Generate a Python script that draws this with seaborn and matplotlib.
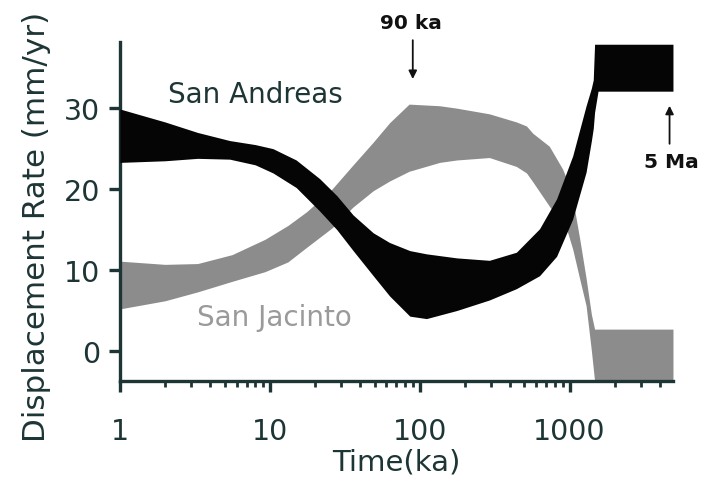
import numpy as np
import matplotlib
matplotlib.use("Agg")
import matplotlib.pyplot as plt
import seaborn as sns

# Slip-rate envelopes (mm/yr) versus averaging time window (ka)
sa_time = [1, 2, 3.3, 5.4, 8, 10.5, 15, 21.5, 28, 36, 49, 63, 86, 111,
           177, 292, 442, 631, 820, 1050, 1290, 1400, 1440, 1470, 1550, 4900]
sa_upper = [29.9, 28.3, 27.0, 26.0, 25.5, 25.0, 23.6, 21.3, 19.2, 16.8, 14.6,
            13.4, 12.4, 12.0, 11.5, 11.2, 12.2, 15.1, 18.8, 24.1, 30.3, 32.5,
            33.5, 37.9, 37.9, 37.9]
sa_lower = [23.3, 23.5, 23.8, 23.7, 23.0, 22.0, 20.2, 17.3, 15.0, 12.4, 9.3,
            6.8, 4.3, 4.0, 5.0, 6.3, 7.7, 9.3, 11.7, 16.3, 22.1, 26.0, 27.5,
            29.5, 32.1, 32.1]

sj_time = [1, 2, 3.3, 5.6, 9.3, 13.2, 17.6, 26, 36, 49, 63, 85, 136, 177, 292,
           442, 516, 569, 733, 898, 955, 1050, 1166, 1290, 1400, 1470, 4900]
sj_upper = [11.1, 10.7, 10.8, 11.9, 13.8, 15.5, 17.2, 20.0, 23.0, 25.8, 28.2,
            30.5, 30.3, 30.0, 29.3, 28.3, 27.8, 26.9, 25.3, 22.5, 21.3, 18.8,
            14.0, 9.0, 4.5, 2.7, 2.7]
sj_lower = [5.2, 6.2, 7.3, 8.6, 9.8, 11.0, 12.8, 15.2, 17.8, 19.8, 21.0, 22.2,
            23.3, 23.6, 23.9, 22.8, 22.0, 20.9, 17.9, 15.6, 15.1, 12.6, 9.0,
            5.6, 0.0, -3.7, -3.7]

x_ticks = [1, 10, 100, 1000]
x_tick_labels = ["1", "10", "100", "1000"]
y_ticks = [0, 10, 20, 30]

ink = "#1e3535"
black_fill = "#050505"
gray_fill = "#8c8c8c"

sns.set_style("ticks")
plt.rcParams["font.family"] = ["DejaVu Sans"]

fig, ax = plt.subplots(figsize=(7.01, 4.81), dpi=100)
fig.subplots_adjust(left=0.171, right=0.960, top=0.911, bottom=0.206)

ax.fill_between(sj_time, sj_lower, sj_upper, color=gray_fill, lw=0, zorder=2)
ax.fill_between(sa_time, sa_lower, sa_upper, color=black_fill, lw=0, zorder=3)

ax.set_xscale("log")
ax.set_xlim(1, 4900)
ax.set_ylim(-3.7, 38.2)
ax.set_xticks(x_ticks)
ax.set_xticklabels(x_tick_labels)
ax.set_yticks(y_ticks)

sns.despine(ax=ax)
for side in ("left", "bottom"):
    ax.spines[side].set_linewidth(2.4)
    ax.spines[side].set_color(ink)

ax.tick_params(axis="both", which="major", direction="out", length=8,
               width=2.4, color=ink, labelcolor=ink, labelsize=20.5)
ax.tick_params(axis="y", which="major", pad=6)
ax.tick_params(axis="x", which="major", pad=18)
ax.tick_params(axis="x", which="minor", direction="out", length=4,
               width=2.0, color=ink)

ax.set_xlabel("Time(ka)", fontsize=21, color=ink, labelpad=2)
ax.set_ylabel("Displacement Rate (mm/yr)", fontsize=22.3, color=ink)
ax.yaxis.set_label_coords(-0.125, 0.457)

ax.text(2.09, 31.7, "San Andreas", fontsize=20, color=ink, va="center", ha="left")
ax.text(3.26, 4.2, "San Jacinto", fontsize=20, color="#9a9a9a", va="center", ha="left")

# Markers for the 90 ka peak and the 5 Ma long-term rate
ax.annotate("", xy=(90, 33.6), xytext=(90, 38.4), annotation_clip=False,
            arrowprops=dict(arrowstyle="-|>", color="#111111", lw=1.3,
                            mutation_scale=12, shrinkA=0, shrinkB=0))
ax.text(87, 40.6, "90 ka", fontsize=14.5, fontweight="bold", color="#111111",
        ha="center", va="center", clip_on=False)

ax.annotate("", xy=(4650, 30.3), xytext=(4650, 25.6), annotation_clip=False,
            arrowprops=dict(arrowstyle="-|>", color="#111111", lw=1.3,
                            mutation_scale=12, shrinkA=0, shrinkB=0))
ax.text(4800, 23.4, "5 Ma", fontsize=14.5, fontweight="bold", color="#111111",
        ha="center", va="center", clip_on=False)

fig.savefig("out.png", dpi=100, facecolor="white")
